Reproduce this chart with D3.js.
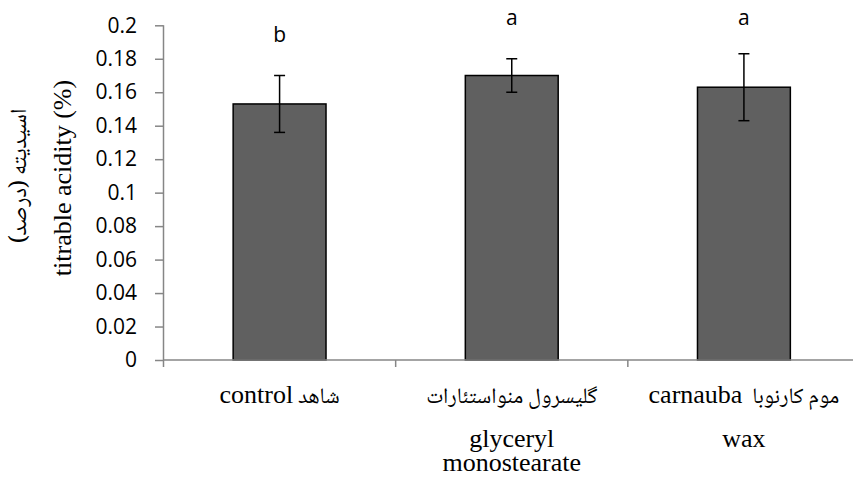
<!DOCTYPE html>
<html><head><meta charset="utf-8">
<script src="https://cdn.jsdelivr.net/npm/d3@7/dist/d3.min.js"></script>
<style>body{margin:0;background:#fff}svg{display:block}</style>
</head><body>
<svg id="c" width="853" height="477"></svg>
<script>
const categories = ["control", "glyceryl monostearate", "carnauba wax"];
const labelLines = [
  ["control شاهد"],
  ["گلیسرول منواستئارات", "glyceryl", "monostearate"],
  ["carnauba  موم کارنوبا", "wax"]
];
const values = [0.153, 0.170, 0.163];
const errors = [0.017, 0.010, 0.020];
const letters = ["b", "a", "a"];
const yTicks = [0, 0.02, 0.04, 0.06, 0.08, 0.1, 0.12, 0.14, 0.16, 0.18, 0.2];

const SERIF = '"Liberation Serif", "Noto Naskh Arabic", serif';
const NASKH = '"Noto Naskh Arabic", "Liberation Serif", serif';
const SANS = '"Open Sans", "Lato", sans-serif';
const svg = d3.select("#c");
const mLeft = 163.5, mRight = 860, mTop = 25.3, mBottom = 360;
const x = d3.scaleBand().domain(categories).range([mLeft, mRight]).paddingInner(0.6).paddingOuter(0.3);
const y = d3.scaleLinear().domain([0, 0.2]).range([mBottom, mTop]);
const step = x.step();
const axisColor = "#868686";

// y axis
const yAxis = svg.append("g").attr("transform", `translate(${mLeft},0)`)
  .call(d3.axisLeft(y).tickValues(yTicks).tickSize(8.5).tickPadding(18).tickFormat(d => String(d)));
yAxis.select(".domain").remove();
yAxis.selectAll(".tick line").attr("stroke", axisColor).attr("stroke-width", 1.5);
yAxis.selectAll(".tick text").style("font-family", SANS).style("font-size", "21px").attr("fill", "#000");
svg.append("line").attr("x1", mLeft).attr("x2", mLeft).attr("y1", mTop).attr("y2", mBottom)
  .attr("stroke", axisColor).attr("stroke-width", 1.5);

// bars
svg.selectAll("rect.bar").data(categories).join("rect").attr("class", "bar")
  .attr("x", d => x(d)).attr("width", x.bandwidth())
  .attr("y", (d, i) => y(values[i])).attr("height", (d, i) => y(0) - y(values[i]))
  .attr("fill", "#606060").attr("stroke", "#000").attr("stroke-width", 1.5);

// x axis
svg.append("line").attr("x1", mLeft).attr("x2", mRight).attr("y1", mBottom).attr("y2", mBottom)
  .attr("stroke", axisColor).attr("stroke-width", 1.5);
const bounds = categories.map(d => x(d) - step * x.paddingOuter());
svg.selectAll("line.xt").data(bounds).join("line").attr("class", "xt")
  .attr("x1", d => d).attr("x2", d => d).attr("y1", mBottom).attr("y2", mBottom + 7)
  .attr("stroke", axisColor).attr("stroke-width", 1.5);

// error bars
const cx = d => x(d) + x.bandwidth() / 2;
const eg = svg.append("g").attr("stroke", "#000").attr("stroke-width", 1.5);
categories.forEach((c, i) => {
  const t = y(values[i] + errors[i]), b = y(values[i] - errors[i]);
  eg.append("line").attr("x1", cx(c)).attr("x2", cx(c)).attr("y1", t).attr("y2", b);
  eg.append("line").attr("x1", cx(c) - 5.5).attr("x2", cx(c) + 5.5).attr("y1", t).attr("y2", t);
  eg.append("line").attr("x1", cx(c) - 5.5).attr("x2", cx(c) + 5.5).attr("y1", b).attr("y2", b);
});

// significance letters
svg.selectAll("text.let").data(categories).join("text").attr("class", "let")
  .attr("x", cx).attr("y", (d, i) => Math.max(y(0.2), y(values[i] + errors[i]) - 34))
  .attr("text-anchor", "middle").style("font-family", SANS).style("font-size", "21px")
  .text((d, i) => letters[i]);

// x labels (Latin runs in Times-like serif, Persian runs in Naskh)
const lineY = [403, 447, 471];
const arabic = /[\u0600-\u06FF]/;
categories.forEach((c, i) => {
  labelLines[i].forEach((t, j) => {
    const txt = svg.append("text").attr("x", cx(c)).attr("y", lineY[j])
      .attr("text-anchor", "middle").attr("direction", "ltr").style("white-space", "pre");
    t.split(/(\s*[\u0600-\u06FF][\u0600-\u06FF\s]*)/).filter(s => s.length).forEach(part => {
      const isAr = arabic.test(part);
      txt.append("tspan").text(part)
        .style("font-family", isAr ? NASKH : SERIF)
        .style("font-size", isAr ? "22px" : "26px");
    });
  });
});

// y titles
svg.append("text").attr("transform", "translate(71,178) rotate(-90)")
  .attr("text-anchor", "middle").style("font-family", SERIF).style("font-size", "26px")
  .text("titrable acidity (%)");
svg.append("text").attr("transform", "translate(26,176) rotate(-90)")
  .attr("text-anchor", "middle").style("font-family", NASKH).style("font-size", "23px")
  .attr("direction", "rtl").text("اسیدیته (درصد)");
</script>
</body></html>
